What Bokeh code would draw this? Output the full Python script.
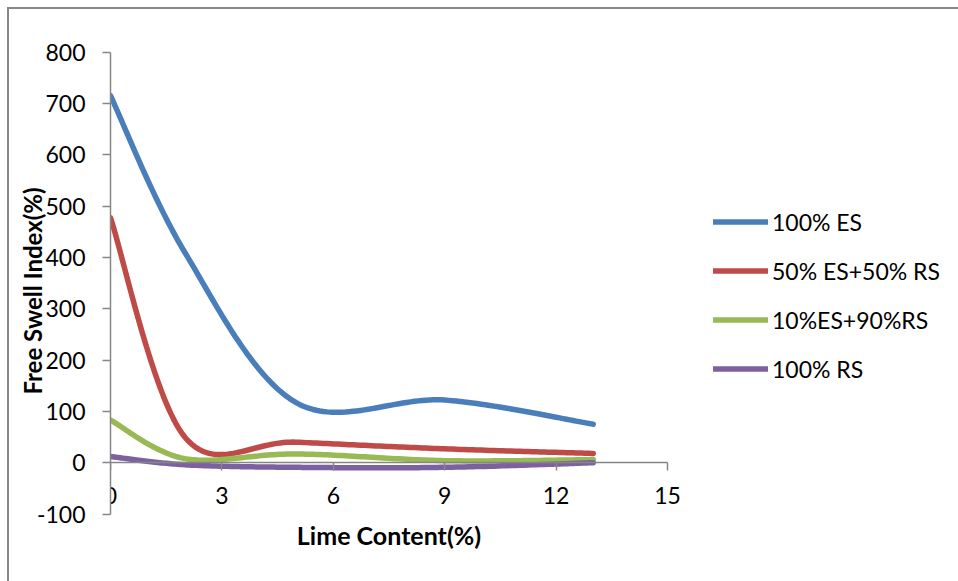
import numpy as np
from bokeh.plotting import figure
from bokeh.models import Range1d, LinearAxis, FixedTicker, Legend, LegendItem, Label
from bokeh.embed import file_html
from bokeh.resources import INLINE

# Free swell index (%) against lime content (%)
lime = [0, 2, 5, 9, 13]
es100 = [715, 410, 117, 122, 75]
es50_rs50 = [477, 50, 40, 27, 18]
es10_rs90 = [83, 8, 17, 4, 6]
rs100 = [12, -4, -9, -9, 0]

series_names = ["100% ES", "50% ES+50% RS", "10%ES+90%RS", "100% RS"]
series_values = [es100, es50_rs50, es10_rs90, rs100]
series_colors = ["#4A7EBB", "#BE4B48", "#98B954", "#7D60A0"]

x_ticks = [0, 3, 6, 9, 12, 15]
y_ticks = [-100, 0, 100, 200, 300, 400, 500, 600, 700, 800]

FONT = "Lato"
AXIS_COLOR = "#868686"


def smooth(xs, ys, steps=40):
    """Spreadsheet-style smoothed line: cubic Bezier through each point."""
    pts = np.column_stack([xs, ys]).astype(float)
    n = len(pts)
    out = [pts[0]]
    t = np.linspace(0, 1, steps + 1)[1:, None]
    for i in range(n - 1):
        p0 = pts[i - 1] if i > 0 else pts[i]
        p1, p2 = pts[i], pts[i + 1]
        p3 = pts[i + 2] if i + 2 < n else pts[i + 1]
        c1 = p1 + (p2 - p0) / 6.0
        c2 = p2 - (p3 - p1) / 6.0
        seg = ((1 - t) ** 3) * p1 + 3 * ((1 - t) ** 2) * t * c1 \
            + 3 * (1 - t) * (t ** 2) * c2 + (t ** 3) * p2
        out.extend(seg)
    arr = np.array(out)
    return arr[:, 0], arr[:, 1]


# pixel scale of the axes: 15 x-units over 557 px, 900 y-units over 462 px
px_x = 557.0 / 15
px_y = 462.0 / 900
# drawing area reaches below the axis so the zero-crossing x-axis and its
# title stay visible; the y axis itself only spans -100..800
y_lo, y_hi = -173, 842
frame_w = 848
frame_h = int(round((y_hi - y_lo) * px_y))

p = figure(
    frame_width=frame_w, frame_height=frame_h,
    x_range=Range1d(0, frame_w / px_x), y_range=Range1d(y_lo, y_hi),
    x_axis_type=None,
    min_border_left=101, min_border_top=21, min_border_bottom=30, min_border_right=0,
    toolbar_location=None, output_backend="svg",
    outline_line_color=None, background_fill_color="white", border_fill_color="white",
)
p.styles = {
    "margin-left": "7px", "margin-top": "7px",
    "border-left": "2px solid #878787", "border-top": "2px solid #878787",
}
p.grid.visible = False

# vertical axis
yax = p.yaxis[0]
yax.ticker = FixedTicker(ticks=y_ticks)
yax.major_label_overrides = {t: str(t) for t in y_ticks}
yax.bounds = (-100, 800)
yax.axis_line_color = AXIS_COLOR
yax.axis_line_width = 1.5
yax.major_tick_line_color = AXIS_COLOR
yax.major_tick_line_width = 1.5
yax.major_tick_out = 8
yax.major_tick_in = 0
yax.minor_tick_line_color = None
yax.major_label_standoff = 17
yax.major_label_text_font = FONT
yax.major_label_text_font_size = "23px"
yax.major_label_text_color = "black"
yax.axis_label = "Free Swell Index(%)"
yax.axis_label_text_font = FONT
yax.axis_label_text_font_size = "24px"
yax.axis_label_text_font_style = "bold"
yax.axis_label_text_color = "black"
yax.axis_label_standoff = -13

# horizontal axis crossing at zero
xax = LinearAxis(fixed_location=0, ticker=FixedTicker(ticks=x_ticks), bounds=(0, 15))
xax.axis_line_color = AXIS_COLOR
xax.axis_line_width = 1.5
xax.major_tick_line_color = AXIS_COLOR
xax.major_tick_line_width = 1.5
xax.major_tick_out = 8
xax.major_tick_in = 0
xax.minor_tick_line_color = None
xax.major_label_standoff = 16
xax.major_label_text_font = FONT
xax.major_label_text_font_size = "23px"
xax.major_label_text_color = "black"
p.add_layout(xax, "below")

# horizontal axis title, centred under the 0..15 axis
p.add_layout(Label(
    x=7.5, y=-141,
    text="Lime Content(%)", text_align="center", text_baseline="middle",
    text_font=FONT, text_font_size="25px", text_font_style="bold", text_color="black",
))

items = []
for name, vals, color in zip(series_names, series_values, series_colors):
    sx, sy = smooth(lime, vals)
    r = p.line(sx, sy, line_color=color, line_width=5.5,
               line_cap="round", line_join="round")
    items.append(LegendItem(label=name, renderers=[r]))

legend = Legend(
    items=items, location=(603, 168),
    glyph_width=55, glyph_height=29, label_height=29, label_standoff=4,
    spacing=20, padding=0, margin=0,
    border_line_color=None, background_fill_alpha=0,
    label_text_font=FONT, label_text_font_size="23px", label_text_color="black",
)
p.add_layout(legend)

open("out.html", "w").write(file_html(p, INLINE))
